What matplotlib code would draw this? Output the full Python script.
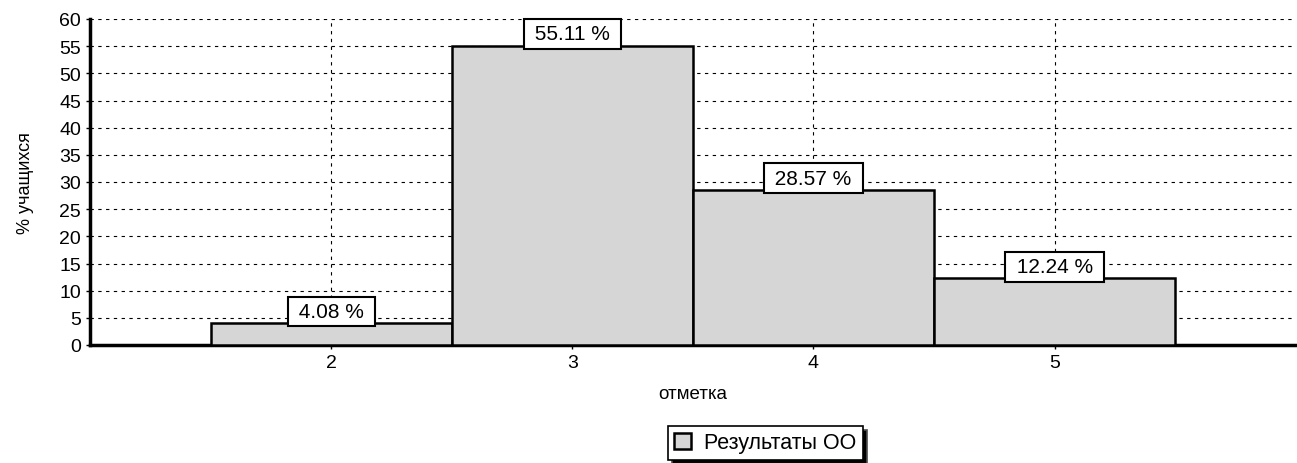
import matplotlib
matplotlib.use("Agg")
import matplotlib.pyplot as plt

plt.rcParams['font.family'] = ['Liberation Sans', 'DejaVu Sans']

marks = [2, 3, 4, 5]
percents = [4.08, 55.11, 28.57, 12.24]
labels = ['4.08 %', '55.11 %', '28.57 %', '12.24 %']

fig = plt.figure(figsize=(12.97, 4.64), dpi=100)
ax = fig.add_axes([90 / 1297, 1 - 346 / 464, 1 - 90 / 1297 - 0.001, (346 - 20) / 464])

bars = ax.bar(marks, percents, width=1.0, color='#d6d6d6', edgecolor='black',
              linewidth=1.8, label='Результаты ОО', zorder=3)

# подписи над столбцами в рамке
for x, y, t in zip(marks, percents, labels):
    ax.annotate(' ' + t + ' ', (x, y), xytext=(0, 1.5), textcoords='offset points',
                ha='center', va='bottom', fontsize=15, zorder=5,
                bbox=dict(boxstyle='square,pad=0.25', fc='white', ec='black', lw=1.5))

ax.set_xlim(1, 6)
ax.set_ylim(0, 60)
ax.set_xticks(marks)
ax.set_yticks(range(0, 61, 5))
ax.tick_params(axis='both', labelsize=14, length=3, width=1)
ax.grid(True, linestyle=(0, (3, 4)), color='black', linewidth=0.8, zorder=0)

for s in ['top', 'right']:
    ax.spines[s].set_visible(False)
ax.spines['left'].set_linewidth(2.5)
ax.spines['bottom'].set_linewidth(2.5)

ax.set_ylabel('% учащихся', fontsize=13, labelpad=18)
ax.set_xlabel('отметка', fontsize=13.5, labelpad=10)

leg = ax.legend(loc='center', bbox_to_anchor=(0.56, -0.30), fontsize=15.5,
                frameon=True, fancybox=False,
                shadow={'ox': 3, 'oy': -3, 'facecolor': 'black', 'alpha': 1},
                handlelength=0.8, handleheight=0.8, handletextpad=0.6,
                borderpad=0.3, borderaxespad=0)
leg.get_frame().set_edgecolor('black')
leg.get_frame().set_linewidth(1.2)

fig.savefig('out.png', dpi=100)
